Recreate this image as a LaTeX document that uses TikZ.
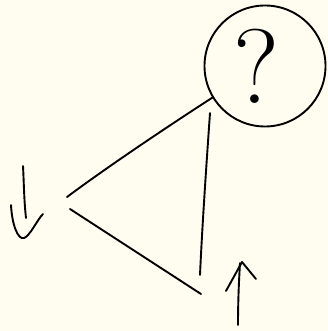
\documentclass[tikz,border=0pt]{standalone}
\usepackage{xcolor}
\usepackage{tikz}
\usetikzlibrary{arrows.meta, positioning}
\usetikzlibrary{calc}
\definecolor{paper}{HTML}{FEFDF0}

\begin{document}
\begin{tikzpicture}[x=1pt, y=-1pt, line width=1.9pt, line cap=round, line join=round]
    \fill[paper] (0,0) rectangle (328,331);
    \useasboundingbox (0,0) rectangle (328,331);
    \node[draw, circle, inner sep=0pt, minimum size=121pt] (q) at (265,66) {};
    \node[inner sep=0pt, font=\fontsize{106}{106}\selectfont] (qm) at (256,66) {?};
    \coordinate (a) at (210,113);
    \coordinate (l1) at (67,197);
    \coordinate (l2) at (70,209);
    \coordinate (b1) at (200,275);
    \coordinate (b2) at (201,294);
    \draw (q.211) .. controls (170,125) and (110,165) .. (l1) ;
    \draw (l2) -- (b2) ;
    \draw (a) .. controls (206,170) and (202,230) .. (b1) ;
    % left arrow
    \coordinate (d1) at (23,166);
    \coordinate (d2) at (26,218);
    \draw (d1) .. controls (24,185) and (24,200) .. (d2) ;
    \draw (11,205) .. controls (12,225) and (18,240) .. (24,238) .. controls (30,236) and (37,220) .. (43,214) ;
    % bottom arrow
    \coordinate (u1) at (238,325);
    \coordinate (u2) at (240,263);
    \draw (u1) .. controls (238,300) and (239,280) .. (u2) ;
    \draw (226,291) -- (242,262) -- (256,279) ;
\end{tikzpicture}
\end{document}
